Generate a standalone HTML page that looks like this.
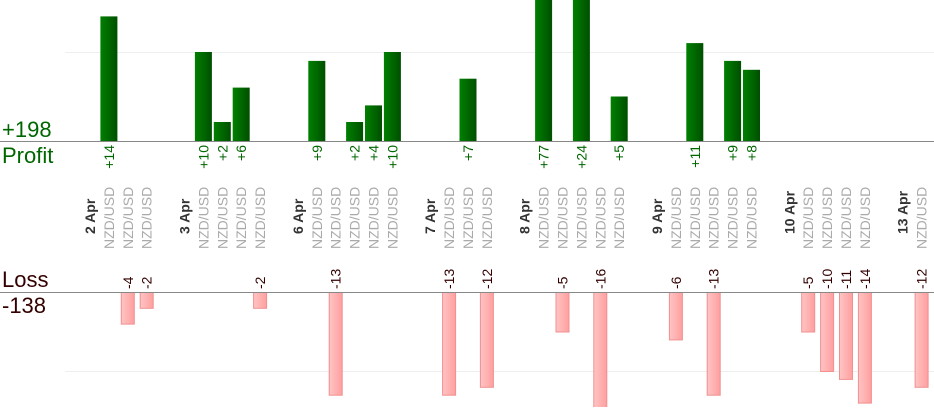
<!DOCTYPE html>
<html><head><meta charset="utf-8"><style>
html,body{margin:0;padding:0;background:#fff;}
svg{display:block;font-family:"Liberation Sans",sans-serif;}
</style></head><body>
<svg width="934" height="420" viewBox="0 0 934 420" xmlns="http://www.w3.org/2000/svg">
<defs>
<linearGradient id="g" x1="0" x2="1" y1="0" y2="0"><stop offset="0" stop-color="#008000"/><stop offset="1" stop-color="#004f00"/></linearGradient>
<linearGradient id="r" x1="0" x2="1" y1="0" y2="0"><stop offset="0" stop-color="#ffc4c4"/><stop offset="1" stop-color="#ff9f9f"/></linearGradient>
<clipPath id="c"><rect x="0" y="0" width="934" height="407"/></clipPath>
</defs>
<line x1="65" y1="52.5" x2="934" y2="52.5" stroke="#eee"/>
<line x1="65" y1="371.5" x2="934" y2="371.5" stroke="#eee"/>
<g id="bars" clip-path="url(#c)"></g>
<line x1="0" y1="141.5" x2="934" y2="141.5" stroke="#888"/>
<line x1="0" y1="292.5" x2="934" y2="292.5" stroke="#888"/>
<text x="2" y="137" font-size="22" fill="#006600">+198</text>
<text x="2" y="163" font-size="22" fill="#006600">Profit</text>
<text x="2" y="287" font-size="22" fill="#330000">Loss</text>
<text x="2" y="313" font-size="22" fill="#330000">-138</text>
<g id="labels"></g>
</svg>
<script>
var ns="http://www.w3.org/2000/svg";
function X(i){return 90+18.9*i;}
var dates=[[0,"2 Apr"],[5,"3 Apr"],[11,"6 Apr"],[18,"7 Apr"],[23,"8 Apr"],[30,"9 Apr"],[37,"10 Apr"],[43,"13 Apr"]];
var vals={1:14,2:-4,3:-2,6:10,7:2,8:6,9:-2,12:9,13:-13,14:2,15:4,16:10,19:-13,20:7,21:-12,24:77,25:-5,26:24,27:-16,28:5,31:-6,32:11,33:-13,34:9,35:8,38:-5,39:-10,40:-11,41:-14,44:-12};
var bars=document.getElementById("bars"),lab=document.getElementById("labels");
function t(x,y,s,anchor,fill,bold,size){var e=document.createElementNS(ns,"text");e.setAttribute("x",0);e.setAttribute("y",0);
e.setAttribute("transform","translate("+x+","+y+") rotate(-90)");e.setAttribute("text-anchor",anchor);e.setAttribute("fill",fill);e.setAttribute("font-size",size||14);
if(bold)e.setAttribute("font-weight","bold");e.textContent=s;lab.appendChild(e);}
dates.forEach(function(d){t(X(d[0])+5,234,d[1],"start","#333",true);});
for(var k in vals){var i=+k,v=vals[k],cx=X(i);
 t(cx+5,249,"NZD/USD","start","#aaa",false);
 var r=document.createElementNS(ns,"rect");
 if(v>0){var h=Math.max(v*8.9,19);r.setAttribute("x",cx-8.5);r.setAttribute("width",17);r.setAttribute("y",141-h);r.setAttribute("height",h);r.setAttribute("fill","url(#g)");
  t(cx+5,145,"+"+v,"end","#006600",false);}
 else{var h=-v*7.9;r.setAttribute("x",cx-6.5);r.setAttribute("width",13);r.setAttribute("y",292.5);r.setAttribute("height",h);r.setAttribute("fill","url(#r)");r.setAttribute("stroke","#f09090");
  t(cx+5,289,""+v,"start","#330000",false);}
 bars.appendChild(r);}
</script>
</body></html>
